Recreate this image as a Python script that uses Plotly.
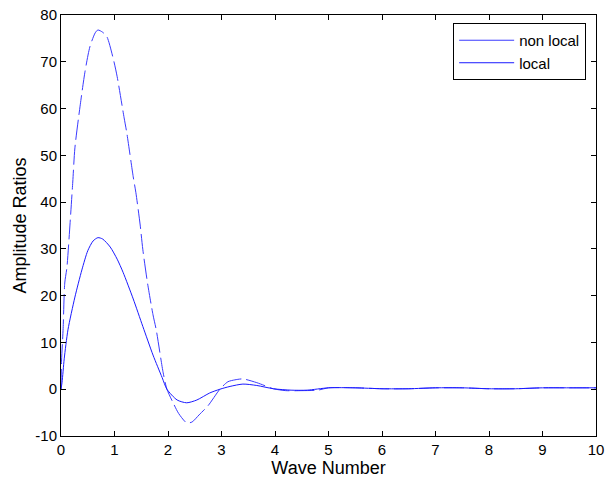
import plotly.graph_objects as go

# Non local (tall, dashed-looking curve)
nl_x = [0, 0.01, 0.04, 0.07, 0.11, 0.17, 0.22, 0.26, 0.36, 0.45, 0.54, 0.64, 0.69, 0.78, 0.86, 0.99,
        1.05, 1.18, 1.23, 1.35, 1.40, 1.48, 1.53, 1.62, 1.72, 1.78, 1.91, 1.98, 2.1, 2.2, 2.35, 2.45,
        2.58, 2.75, 2.97, 3.12, 3.25, 3.40, 3.66, 3.97, 4.2, 4.5, 4.8, 5.0, 5.5, 6.0, 6.5, 7.0, 7.5,
        8.0, 8.5, 9.0, 9.5, 10.0]
nl_y = [0, 6, 13, 22.7, 26, 35.6, 44.3, 51.6, 60.8, 68, 73.2, 76.2, 76.8, 76.3, 75.3, 70,
        66.8, 58, 54.8, 45.4, 42, 35.1, 29.8, 22.5, 15.9, 12.7, 3.5, 0, -3, -5.2, -7.2, -7,
        -5.5, -3.5, 0, 1.6, 2.0, 2.2, 1.4, 0.1, -0.3, -0.3, -0.2, 0.3, 0.3, 0.1, 0.1, 0.3, 0.3,
        0.1, 0.1, 0.3, 0.3, 0.3]

# Local (lower, solid curve)
lo_x = [0, 0.02, 0.06, 0.13, 0.26, 0.39, 0.5, 0.6, 0.69, 0.78, 0.92, 1.05, 1.16, 1.35, 1.53,
        1.72, 1.89, 1.98, 2.17, 2.35, 2.54, 2.78, 2.97, 3.16, 3.40, 3.66, 3.97, 4.3, 4.6, 5.0,
        5.5, 6.0, 6.5, 7.0, 7.5, 8.0, 8.5, 9.0, 9.5, 10.0]
lo_y = [0, 1.5, 6.5, 12.7, 19.7, 25.5, 29.6, 31.7, 32.4, 32.1, 30.4, 27.8, 25.0, 19.3, 13.4,
        7.3, 2.5, 0, -2.3, -2.9, -2.3, -0.8, 0, 0.6, 1.1, 0.8, 0.1, -0.2, -0.2, 0.3,
        0.3, 0.1, 0.1, 0.3, 0.3, 0.1, 0.1, 0.3, 0.3, 0.3]

x_ticks = list(range(0, 11))
y_ticks = list(range(-10, 81, 10))
y_tick_labels = ["-10", "0", "10", "20", "30", "40", "50", "60", "70", "80"]

fig = go.Figure()
fig.add_trace(go.Scatter(x=nl_x, y=nl_y, mode="lines",
                         line=dict(color="#3a3aff", width=1, dash="20px,5px", shape="spline", smoothing=0.7),
                         showlegend=False))
fig.add_trace(go.Scatter(x=lo_x, y=lo_y, mode="lines",
                         line=dict(color="#1a1aff", width=1, shape="spline", smoothing=0.7),
                         showlegend=False))
# legend entries (solid lines as in the reference)
fig.add_trace(go.Scatter(x=[None], y=[None], mode="lines", name="non local", line=dict(color="#3a3aff", width=1)))
fig.add_trace(go.Scatter(x=[None], y=[None], mode="lines", name="local", line=dict(color="#1a1aff", width=1)))

FONT = "Liberation Sans, Arial"
axis_common = dict(showgrid=False, zeroline=False, showline=True, linecolor="black", linewidth=1,
                   mirror="ticks", ticks="inside", ticklen=5, tickcolor="black", automargin=False,
                   tickfont=dict(family=FONT, size=15, color="black"))

fig.update_layout(
    width=605, height=482,
    margin=dict(l=61, r=9, t=15, b=46),
    paper_bgcolor="white", plot_bgcolor="white",
    font=dict(family=FONT, size=15, color="black"),
    xaxis=dict(range=[0, 10], tickvals=x_ticks, title=dict(text="Wave Number", standoff=2), **axis_common),
    yaxis=dict(range=[-10, 80], tickvals=y_ticks, ticktext=y_tick_labels,
               title=dict(text="Amplitude Ratios", standoff=4), **axis_common),
    legend=dict(x=0.733, y=0.981, xanchor="left", yanchor="top", bordercolor="black", borderwidth=1,
                bgcolor="white", font=dict(size=15), tracegroupgap=0, itemwidth=55),
)

fig.write_html("out.html")
